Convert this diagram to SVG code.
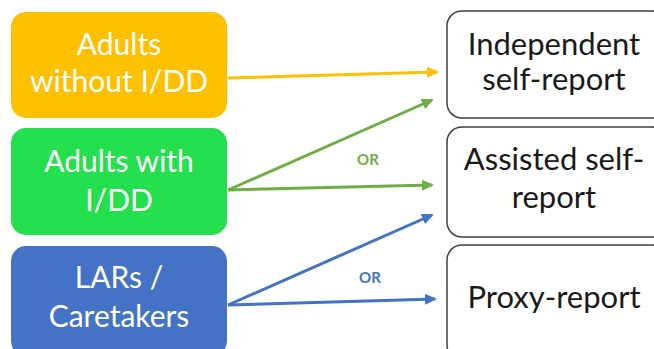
<svg xmlns="http://www.w3.org/2000/svg" width="654" height="349" viewBox="0 0 654 349">
<style>
.lt{font-family:Lato,"Open Sans","Liberation Sans",sans-serif;font-size:30px;fill:#fff;text-anchor:middle}
.rt{font-family:Lato,"Open Sans","Liberation Sans",sans-serif;font-size:31px;fill:#1a1a1a;text-anchor:middle}
.rb{fill:#fff;stroke:#404040;stroke-width:1.5}
.or{font-family:Lato,"Open Sans","Liberation Sans",sans-serif;font-size:15px;font-weight:bold;text-anchor:middle}
.c{fill:none;stroke-width:3}
</style>
<defs>
<marker id="ay" markerWidth="12" markerHeight="11" refX="10" refY="5.5" orient="auto" markerUnits="userSpaceOnUse"><path d="M0,0 L12,5.5 L0,11 Z" fill="#ffc000"/></marker>
<marker id="ag" markerWidth="12" markerHeight="11" refX="10" refY="5.5" orient="auto" markerUnits="userSpaceOnUse"><path d="M0,0 L12,5.5 L0,11 Z" fill="#70ad47"/></marker>
<marker id="ab" markerWidth="12" markerHeight="11" refX="10" refY="5.5" orient="auto" markerUnits="userSpaceOnUse"><path d="M0,0 L12,5.5 L0,11 Z" fill="#4472c4"/></marker>
</defs>
<rect width="654" height="349" fill="#fff"/>
<g id="n-adults-without"><rect x="11" y="12" width="216" height="106" rx="15" fill="#ffc000"/><text class="lt" x="119" y="55">Adults</text><text class="lt" x="119" y="92">without I/DD</text></g>
<g id="n-adults-with"><rect x="11" y="128" width="216" height="107" rx="15" fill="#25e04e"/><text class="lt" x="119" y="172">Adults with</text><text class="lt" x="119" y="211">I/DD</text></g>
<g id="n-lars"><rect x="11" y="246" width="216" height="110" rx="15" fill="#4472c4"/><text class="lt" x="119" y="288">LARs /</text><text class="lt" x="119" y="327">Caretakers</text></g>
<g id="n-independent"><rect class="rb" x="447" y="11" width="220" height="107" rx="15"/><text class="rt" x="554" y="55">Independent</text><text class="rt" x="554" y="90">self-report</text></g>
<g id="n-assisted"><rect class="rb" x="447" y="127" width="220" height="110" rx="15"/><text class="rt" x="554" y="170">Assisted self-</text><text class="rt" x="554" y="208">report</text></g>
<g id="n-proxy"><rect class="rb" x="447" y="245" width="220" height="115" rx="15"/><text class="rt" x="554" y="308">Proxy-report</text></g>
<g id="connectors">
<line class="c" x1="228" y1="78" x2="437" y2="72" stroke="#ffc000" marker-end="url(#ay)"/>
<line class="c" x1="228" y1="190" x2="432" y2="100" stroke="#70ad47" marker-end="url(#ag)"/>
<line class="c" x1="228" y1="190" x2="432" y2="185" stroke="#70ad47" marker-end="url(#ag)"/>
<text class="or" x="368" y="165" fill="#70ad47">OR</text>
<line class="c" x1="228" y1="305" x2="432" y2="215" stroke="#4472c4" marker-end="url(#ab)"/>
<line class="c" x1="228" y1="305" x2="435" y2="299" stroke="#4472c4" marker-end="url(#ab)"/>
<text class="or" x="370" y="283" fill="#4472c4">OR</text>
</g>
</svg>
